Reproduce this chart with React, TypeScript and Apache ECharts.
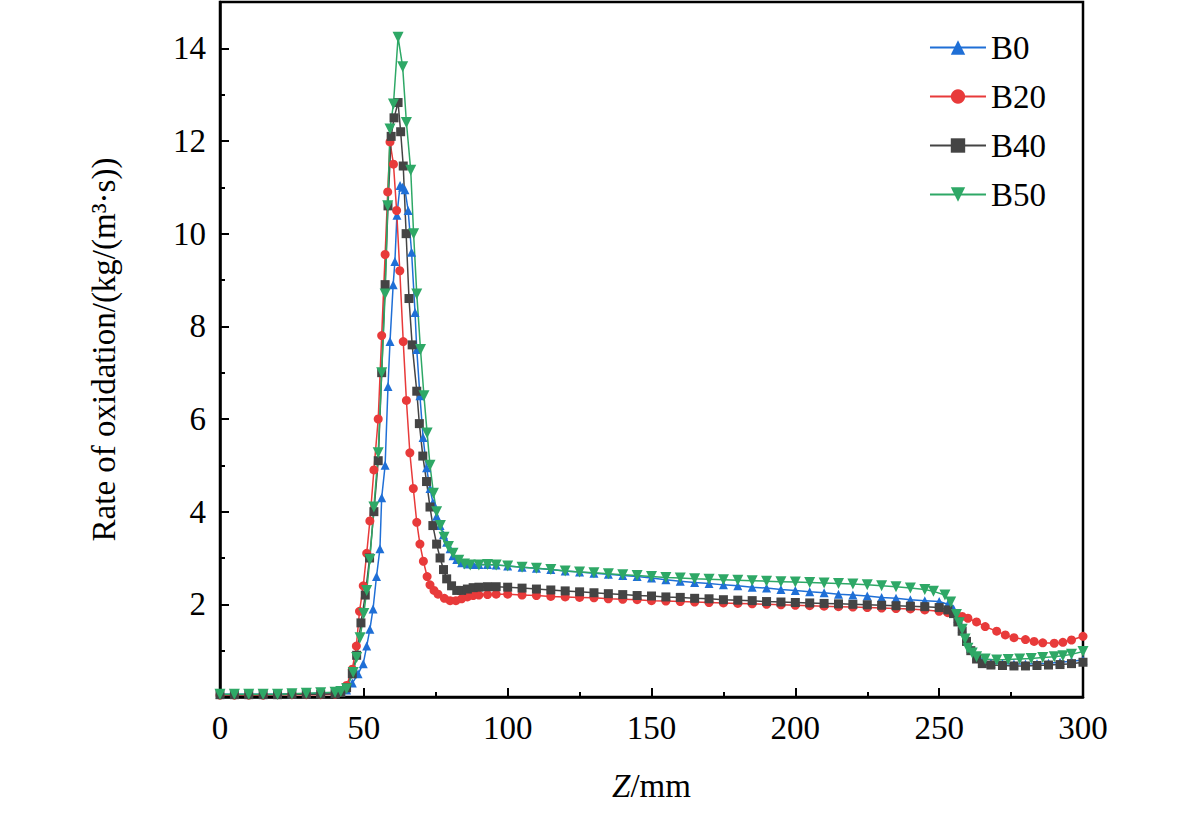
import React, { useEffect, useRef } from "react";
import * as echarts from "echarts";

const seriesNames = ["B0", "B20", "B40", "B50"];
const colors = ["#1f6fd6", "#e83a3a", "#444444", "#2ea866"];
const symbols = ["triangle", "circle", "rect", "path://M0,0 L10,0 L5,9 Z"];

const b0: number[][] = [
  [0,0.06],[5,0.06],[10,0.06],[15,0.06],[20,0.06],[25,0.07],[30,0.07],[35,0.08],[40,0.08],[42,0.1],[44,0.15],[46,0.3],[48,0.5],[49.8,0.72],[51,1.1],[52.1,1.46],[53.2,1.9],[54.4,2.6],[55.6,3.2],[56.2,4.3],[57.4,5.0],[58.4,6.7],[59.1,7.67],[60.2,8.9],[60.8,9.4],[61.5,10.4],[62.6,11.04],[63.5,11.0],[64.3,10.95],[65.4,10.5],[66.6,9.6],[67.8,8.3],[68.4,7.5],[69.5,6.5],[70.6,5.6],[71.8,4.95],[73,4.5],[74,4.2],[75.3,3.9],[76.5,3.7],[77.7,3.5],[78.8,3.34],[80,3.2],[81,3.05],[82.3,2.97],[84,2.9],[86,2.87],[88,2.86],[90,2.86],[93,2.86],[96,2.85],[100,2.83],[105,2.8],[110,2.78],[115,2.75],[120,2.72],[125,2.7],[130,2.67],[135,2.65],[140,2.62],[145,2.6],[150,2.57],[155,2.53],[160,2.5],[165,2.47],[170,2.45],[175,2.42],[180,2.4],[185,2.37],[190,2.35],[195,2.32],[200,2.3],[205,2.27],[210,2.25],[215,2.22],[220,2.2],[225,2.18],[230,2.15],[235,2.13],[240,2.1],[245,2.08],[250,2.06],[253,2.0],[255,1.9],[256.5,1.7],[258,1.49],[259.5,1.25],[261,1.05],[263,0.88],[265,0.77],[268,0.73],[272,0.72],[276,0.71],[280,0.71],[284,0.72],[288,0.73],[292,0.75],[296,0.77],[300,0.8]
];
const b20: number[][] = [
  [0,0.04],[5,0.04],[10,0.04],[15,0.04],[20,0.05],[25,0.05],[30,0.05],[35,0.05],[40,0.06],[42,0.1],[44,0.25],[46,0.6],[47.4,1.1],[48.5,1.85],[49.8,2.4],[51,3.1],[52.1,3.8],[53.5,4.9],[55,6.0],[56.2,7.8],[57.4,9.55],[58.3,10.9],[59.1,11.98],[60.3,11.5],[61.4,10.5],[62.5,9.2],[63.7,7.67],[64.8,6.4],[66,5.27],[67.2,4.5],[68.4,3.77],[69.5,3.3],[70.7,2.93],[72,2.6],[73,2.42],[74.4,2.3],[75.8,2.22],[78,2.13],[80,2.08],[82,2.08],[84,2.12],[86,2.16],[88,2.19],[90,2.2],[93,2.21],[96,2.22],[100,2.22],[105,2.2],[110,2.19],[115,2.17],[120,2.16],[125,2.15],[130,2.14],[135,2.12],[140,2.11],[145,2.1],[150,2.08],[155,2.07],[160,2.06],[165,2.05],[170,2.04],[175,2.03],[180,2.02],[185,2.01],[190,2.0],[195,1.99],[200,1.98],[205,1.97],[210,1.96],[215,1.95],[220,1.94],[225,1.93],[230,1.92],[235,1.91],[240,1.9],[245,1.88],[250,1.85],[253,1.82],[256,1.78],[258,1.74],[260,1.7],[263,1.62],[266,1.52],[270,1.42],[273,1.34],[276,1.28],[280,1.24],[283,1.2],[286,1.17],[290,1.16],[293,1.18],[296,1.23],[300,1.31]
];
const b40: number[][] = [
  [0,0.05],[5,0.05],[10,0.05],[15,0.05],[20,0.05],[25,0.06],[30,0.06],[35,0.06],[40,0.07],[42,0.1],[44,0.2],[46,0.5],[47.5,0.9],[49,1.6],[50.5,2.2],[52,3.0],[53.5,4.0],[55,5.1],[56.2,7.0],[57.4,8.9],[58.4,10.6],[59.5,12.1],[60.5,12.5],[61.9,12.83],[62.8,12.2],[63.7,11.46],[64.7,10.0],[65.7,8.6],[66.8,7.6],[68.4,6.6],[69.3,5.9],[70.5,5.2],[71.8,4.65],[73,4.1],[74,3.7],[75.3,3.3],[76.5,3.0],[77.7,2.75],[78.8,2.55],[80.5,2.4],[82.3,2.3],[84,2.3],[86,2.33],[88,2.36],[90,2.37],[93,2.38],[96,2.38],[100,2.37],[105,2.35],[110,2.33],[115,2.31],[120,2.29],[125,2.27],[130,2.25],[135,2.23],[140,2.21],[145,2.19],[150,2.18],[155,2.16],[160,2.15],[165,2.13],[170,2.12],[175,2.1],[180,2.09],[185,2.08],[190,2.06],[195,2.05],[200,2.04],[205,2.03],[210,2.02],[215,2.01],[220,2.0],[225,1.99],[230,1.98],[235,1.97],[240,1.96],[245,1.95],[250,1.93],[253,1.88],[255,1.8],[256.5,1.62],[258,1.42],[259.5,1.2],[261,1.0],[263,0.82],[265,0.72],[268,0.69],[272,0.68],[276,0.67],[280,0.67],[284,0.68],[288,0.69],[292,0.7],[296,0.72],[300,0.75]
];
const b50: number[][] = [
  [0,0.06],[5,0.06],[10,0.06],[15,0.06],[20,0.06],[25,0.07],[30,0.08],[35,0.09],[40,0.1],[42,0.12],[44,0.18],[46.3,0.53],[47.5,0.85],[48.7,1.28],[50,1.8],[51,2.3],[52.1,2.97],[53.5,4.1],[55,5.27],[56.2,7.0],[57.4,8.7],[58.3,10.6],[59.1,12.26],[60.3,12.8],[61.9,14.24],[63.5,13.6],[64.8,12.4],[66.3,11.37],[67.3,10.0],[68.4,8.7],[69.7,7.5],[70.9,6.5],[72,5.7],[73,5.0],[74.2,4.4],[75.3,4.0],[76.6,3.7],[77.9,3.45],[79.4,3.25],[81,3.1],[83,2.95],[85,2.87],[87,2.85],[90,2.85],[93,2.86],[96,2.85],[100,2.83],[105,2.8],[110,2.78],[115,2.75],[120,2.72],[125,2.7],[130,2.68],[135,2.66],[140,2.64],[145,2.62],[150,2.6],[155,2.58],[160,2.57],[165,2.55],[170,2.54],[175,2.53],[180,2.52],[185,2.51],[190,2.5],[195,2.49],[200,2.48],[205,2.47],[210,2.46],[215,2.45],[220,2.44],[225,2.42],[230,2.4],[235,2.38],[240,2.35],[245,2.32],[248,2.28],[252,2.2],[254,2.05],[256,1.78],[257,1.6],[258,1.46],[259,1.25],[260,1.05],[261.5,0.95],[263,0.87],[266,0.82],[270,0.8],[274,0.81],[278,0.82],[282,0.83],[286,0.85],[290,0.87],[293,0.89],[296,0.92],[300,0.98]
];
const allData = [b0, b20, b40, b50];
const xTicks = [0, 50, 100, 150, 200, 250, 300];
const yTicks = [2, 4, 6, 8, 10, 12, 14];

const FONT = "'Liberation Serif', 'DejaVu Serif', serif";
const FS = 33;

export default function App() {
  const ref = useRef<HTMLDivElement>(null);
  useEffect(() => {
    const chart = echarts.init(ref.current!, undefined, { renderer: "svg" });
    chart.setOption({
      animation: false,
      backgroundColor: "#fff",
      grid: { left: 220, right: 98, top: 2, bottom: 129, show: true, borderColor: "#000", borderWidth: 2.5, backgroundColor: "transparent" },
      legend: {
        top: 26, right: 130, orient: "vertical", itemGap: 16, itemWidth: 56, itemHeight: 18,
        textStyle: { fontFamily: FONT, fontSize: FS, color: "#000" },
        data: seriesNames,
      },
      xAxis: {
        type: "value", min: 0, max: 300, interval: 50,
        axisLine: { lineStyle: { color: "#000", width: 2.5 } },
        axisTick: { inside: true, length: 9, lineStyle: { color: "#000", width: 2 } },
        minorTick: { show: true, splitNumber: 2, length: 5, lineStyle: { color: "#000", width: 2 } },
        splitLine: { show: false },
        axisLabel: { fontFamily: FONT, fontSize: FS, color: "#000", margin: 14, formatter: (v: number) => (xTicks.includes(v) ? String(v) : "") },
        name: "{i|Z}{n|/mm}", nameLocation: "middle", nameGap: 72,
        nameTextStyle: { rich: { i: { fontFamily: FONT, fontSize: FS, fontStyle: "italic", color: "#000" }, n: { fontFamily: FONT, fontSize: FS, color: "#000" } } },
      },
      yAxis: {
        type: "value", min: 0, max: 15, interval: 2,
        axisLine: { lineStyle: { color: "#000", width: 2.5 } },
        axisTick: { inside: true, length: 9, lineStyle: { color: "#000", width: 2 } },
        minorTick: { show: true, splitNumber: 2, length: 5, lineStyle: { color: "#000", width: 2 } },
        splitLine: { show: false },
        axisLabel: { fontFamily: FONT, fontSize: FS, color: "#000", margin: 14, showMaxLabel: false, formatter: (v: number) => (yTicks.includes(v) ? String(v) : "") },
        name: "Rate of oxidation/(kg/(m³·s))", nameLocation: "middle", nameGap: 100,
        nameTextStyle: { fontFamily: FONT, fontSize: FS, color: "#000" },
      },
      series: seriesNames.map((name, i) => ({
        name, type: "line", data: allData[i], color: colors[i],
        symbol: symbols[i], symbolSize: i === 3 ? 11 : 9, showAllSymbol: true,
        lineStyle: { width: 1.5, color: colors[i] },
        itemStyle: { color: colors[i] },
      })),
    });
    return () => chart.dispose();
  }, []);
  return <div ref={ref} style={{ position: "absolute", left: 0, top: 0, width: 1181, height: 826 }} />;
}
